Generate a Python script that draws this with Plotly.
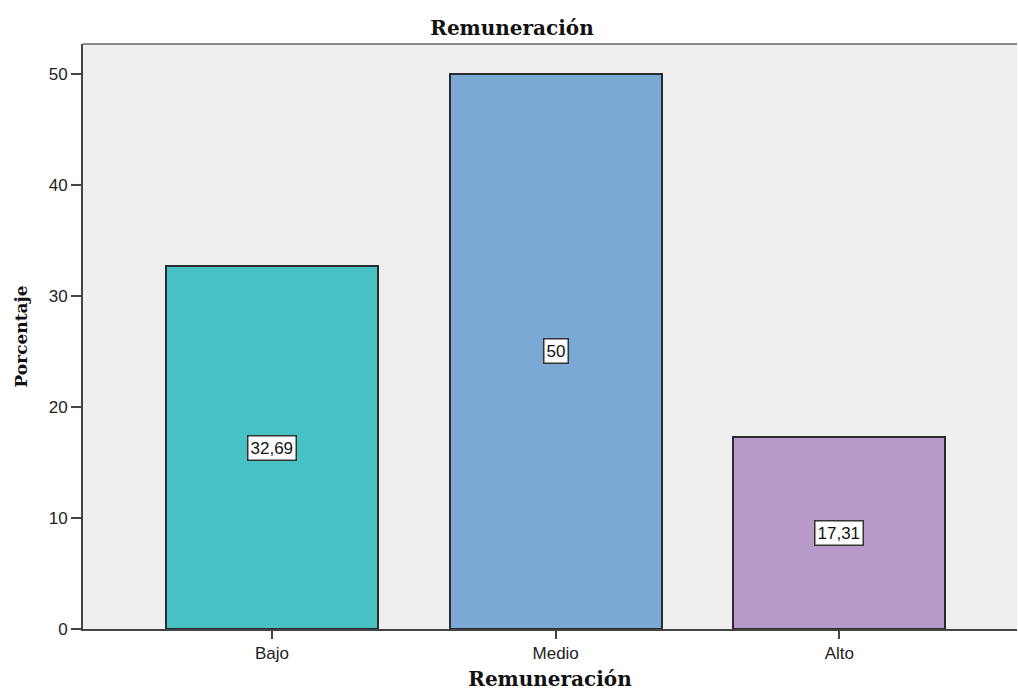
import plotly.graph_objects as go

# Remuneración: percentage of respondents per level
categorias = ["Bajo", "Medio", "Alto"]
porcentajes = [32.69, 50.0, 17.31]
colores = ["#48C1C4", "#7BA9D6", "#B89AC8"]
y_ticks = [0, 10, 20, 30, 40, 50]

SERIF = "DejaVu Serif, Liberation Serif"
SANS = "Liberation Sans, Arial"


def etiqueta(v):
    return f"{v:g}".replace(".", ",")


fig = go.Figure()
fig.add_trace(go.Bar(
    x=list(range(len(categorias))),
    y=porcentajes,
    width=0.747,
    marker=dict(color=colores, line=dict(color="#2b2b2b", width=2)),
    hoverinfo="skip",
))

# value labels in white boxes at the middle of each bar
for i, v in enumerate(porcentajes):
    fig.add_annotation(
        x=i, y=v / 2, text=etiqueta(v), showarrow=False,
        font=dict(family=SANS, size=17, color="#111"),
        bgcolor="white", bordercolor="#333", borderwidth=1.5, borderpad=2,
    )

# top frame line of the plot area
fig.add_shape(type="line", xref="paper", yref="paper", x0=0, x1=1, y0=1, y1=1,
              line=dict(color="#8a8a8a", width=2))

fig.update_layout(
    width=1018, height=691,
    margin=dict(l=83, r=1, t=44, b=62),
    paper_bgcolor="white", plot_bgcolor="#EFEFEF",
    showlegend=False,
    title=dict(text="<b>Remuneración</b>", x=512 / 1018, xanchor="center", xref="container",
               y=1 - 28 / 691, yanchor="middle",
               font=dict(family=SERIF, size=20, color="#111")),
    bargap=0,
)
fig.update_xaxes(
    range=[-0.666, 2.626],
    tickvals=list(range(len(categorias))), ticktext=categorias,
    ticks="outside", ticklen=8, tickwidth=2, tickcolor="#444",
    showline=True, linecolor="#444", linewidth=2,
    showgrid=False, zeroline=False,
    tickfont=dict(family=SANS, size=17, color="#222"),
    title=dict(text="<b>Remuneración</b>", standoff=13,
               font=dict(family=SERIF, size=20, color="#111")),
)
fig.update_yaxes(
    range=[0, 52.7],
    tickvals=y_ticks,
    ticks="outside", ticklen=10, tickwidth=2, tickcolor="#444",
    showline=True, linecolor="#444", linewidth=2,
    showgrid=False, zeroline=False,
    tickfont=dict(family=SANS, size=17, color="#222"),
    title=dict(text="<b>Porcentaje</b>", standoff=17,
               font=dict(family=SERIF, size=17, color="#111")),
)

fig.write_html("out.html")
